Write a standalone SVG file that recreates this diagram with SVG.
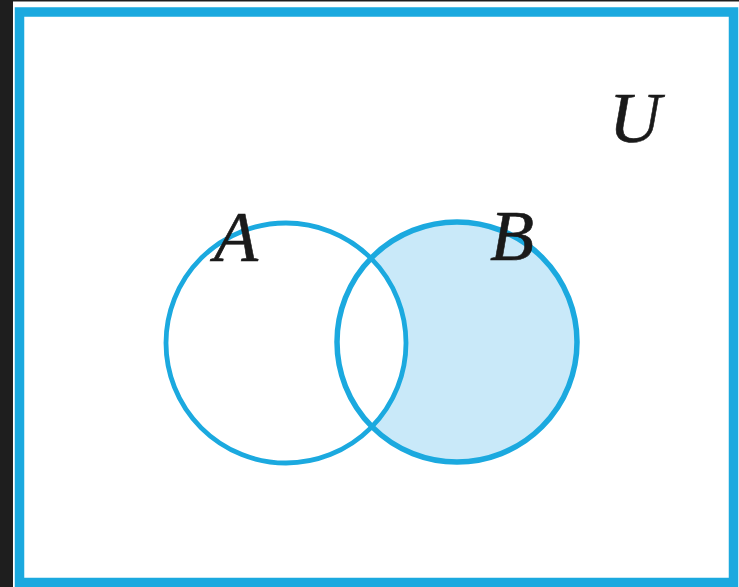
<svg xmlns="http://www.w3.org/2000/svg" width="739" height="587" viewBox="0 0 739 587">
  <style>
    .ring { fill: none; stroke: #1ba9df; }
    .lbl { font-family: "Liberation Serif", "DejaVu Serif", serif; font-style: italic; font-size: 72px; fill: #1a1a1a; stroke: #1a1a1a; stroke-width: 0.6; }
  </style>
  <rect x="0" y="0" width="739" height="587" fill="#ffffff"/>
  <rect x="0" y="0" width="13" height="587" fill="#1e1e1e"/>
  <rect x="0" y="0" width="739" height="1.5" fill="#1e1e1e"/>
  <g id="universe">
    <rect x="19.5" y="12" width="714" height="570.5" fill="none" stroke="#1ba9df" stroke-width="9.5"/>
    <text class="lbl" x="609" y="142">U</text>
  </g>
  <g id="setB">
    <circle cx="457" cy="342" r="120" fill="#c9e9f9"/>
  </g>
  <g id="setA">
    <circle cx="286" cy="343" r="120" fill="#ffffff"/>
  </g>
  <g id="outlines">
    <circle class="ring" cx="286" cy="343" r="120" stroke-width="4.8"/>
    <circle class="ring" cx="457" cy="342" r="120" stroke-width="5.5"/>
  </g>
  <text class="lbl" x="214" y="261">A</text>
  <text class="lbl" x="490" y="260">B</text>
</svg>
